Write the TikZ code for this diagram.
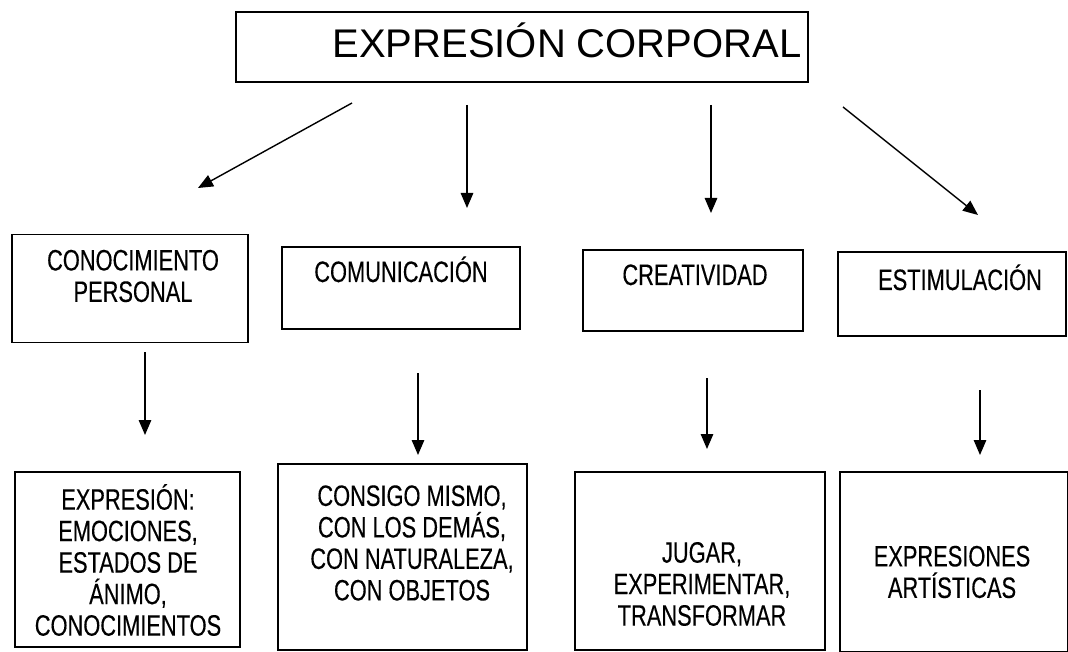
\documentclass[tikz,border=0pt]{standalone}
\usepackage{fontspec}
\setmainfont{Liberation Sans}
\newfontfamily\narrowfont[FakeStretch=0.74,FakeBold=0.3]{Liberation Sans}
\usetikzlibrary{arrows.meta}
\tikzset{
  box/.style={draw=black, line width=1.4pt, inner sep=0pt},
  boxtext/.style={font=\narrowfont\fontsize{29.5}{31.5}\selectfont, align=center, inner sep=0pt},
  toptext/.style={font=\fontsize{40}{46}\selectfont, inner sep=0pt},
  arr/.style={line width=1.4pt, -{Triangle[length=15pt,width=12.5pt]}}
}
\begin{document}
\begin{tikzpicture}[x=1pt,y=-1pt]
\useasboundingbox (0,0) rectangle (1068,652);
% top box
\node[box, minimum width=572pt, minimum height=70pt] (top) at (522,47) {};
\node[toptext, anchor=base] (toptxt) at (567,58) {EXPRESIÓN CORPORAL};
% level 2 boxes
\node[box, minimum width=236pt, minimum height=108pt] (b1) at (130,288.5) {};
\node[box, minimum width=238pt, minimum height=82pt] (b2) at (401,288) {};
\node[box, minimum width=220pt, minimum height=81pt] (b3) at (693,290.5) {};
\node[box, minimum width=228pt, minimum height=84pt] (b4) at (952,294) {};
\node[boxtext] (t1) at (133,276) {CONOCIMIENTO\\PERSONAL};
\node[boxtext, anchor=base] (t2) at (401,282) {COMUNICACIÓN};
\node[boxtext, anchor=base] (t3) at (695,285) {CREATIVIDAD};
\node[boxtext, anchor=base] (t4) at (960,290) {ESTIMULACIÓN};
% level 3 boxes
\node[box, minimum width=225pt, minimum height=175pt] (c1) at (127.5,559.5) {};
\node[box, minimum width=249pt, minimum height=186pt] (c2) at (402.5,557) {};
\node[box, minimum width=250pt, minimum height=178pt] (c3) at (700,561) {};
\node[box, minimum width=228pt, minimum height=180pt] (c4) at (954,562) {};
\node[boxtext] (u1) at (128,560) {EXPRESIÓN:\\EMOCIONES,\\ESTADOS DE\\ÁNIMO,\\CONOCIMIENTOS};
\node[boxtext] (u2) at (412,543) {CONSIGO MISMO,\\CON LOS DEMÁS,\\CON NATURALEZA,\\CON OBJETOS};
\node[boxtext] (u3) at (702,584) {JUGAR,\\EXPERIMENTAR,\\TRANSFORMAR};
\node[boxtext] (u4) at (952,572) {EXPRESIONES\\ARTÍSTICAS};
% arrow end points
\coordinate (s1) at (352,103); \coordinate (e1) at (198,188);
\coordinate (s2) at (467,105); \coordinate (e2) at (467,208);
\coordinate (s3) at (711,105); \coordinate (e3) at (711,213);
\coordinate (s4) at (843,107); \coordinate (e4) at (978,215);
\coordinate (p1) at (145,352); \coordinate (q1) at (145,435);
\coordinate (p2) at (418,373); \coordinate (q2) at (418,455);
\coordinate (p3) at (707,378); \coordinate (q3) at (707,449);
\coordinate (p4) at (980,390); \coordinate (q4) at (980,455);
\draw[arr] (s1) -- (e1);
\draw[arr] (s2) -- (e2);
\draw[arr] (s3) -- (e3);
\draw[arr] (s4) -- (e4);
\draw[arr] (p1) -- (q1);
\draw[arr] (p2) -- (q2);
\draw[arr] (p3) -- (q3);
\draw[arr] (p4) -- (q4);
\end{tikzpicture}
\end{document}
